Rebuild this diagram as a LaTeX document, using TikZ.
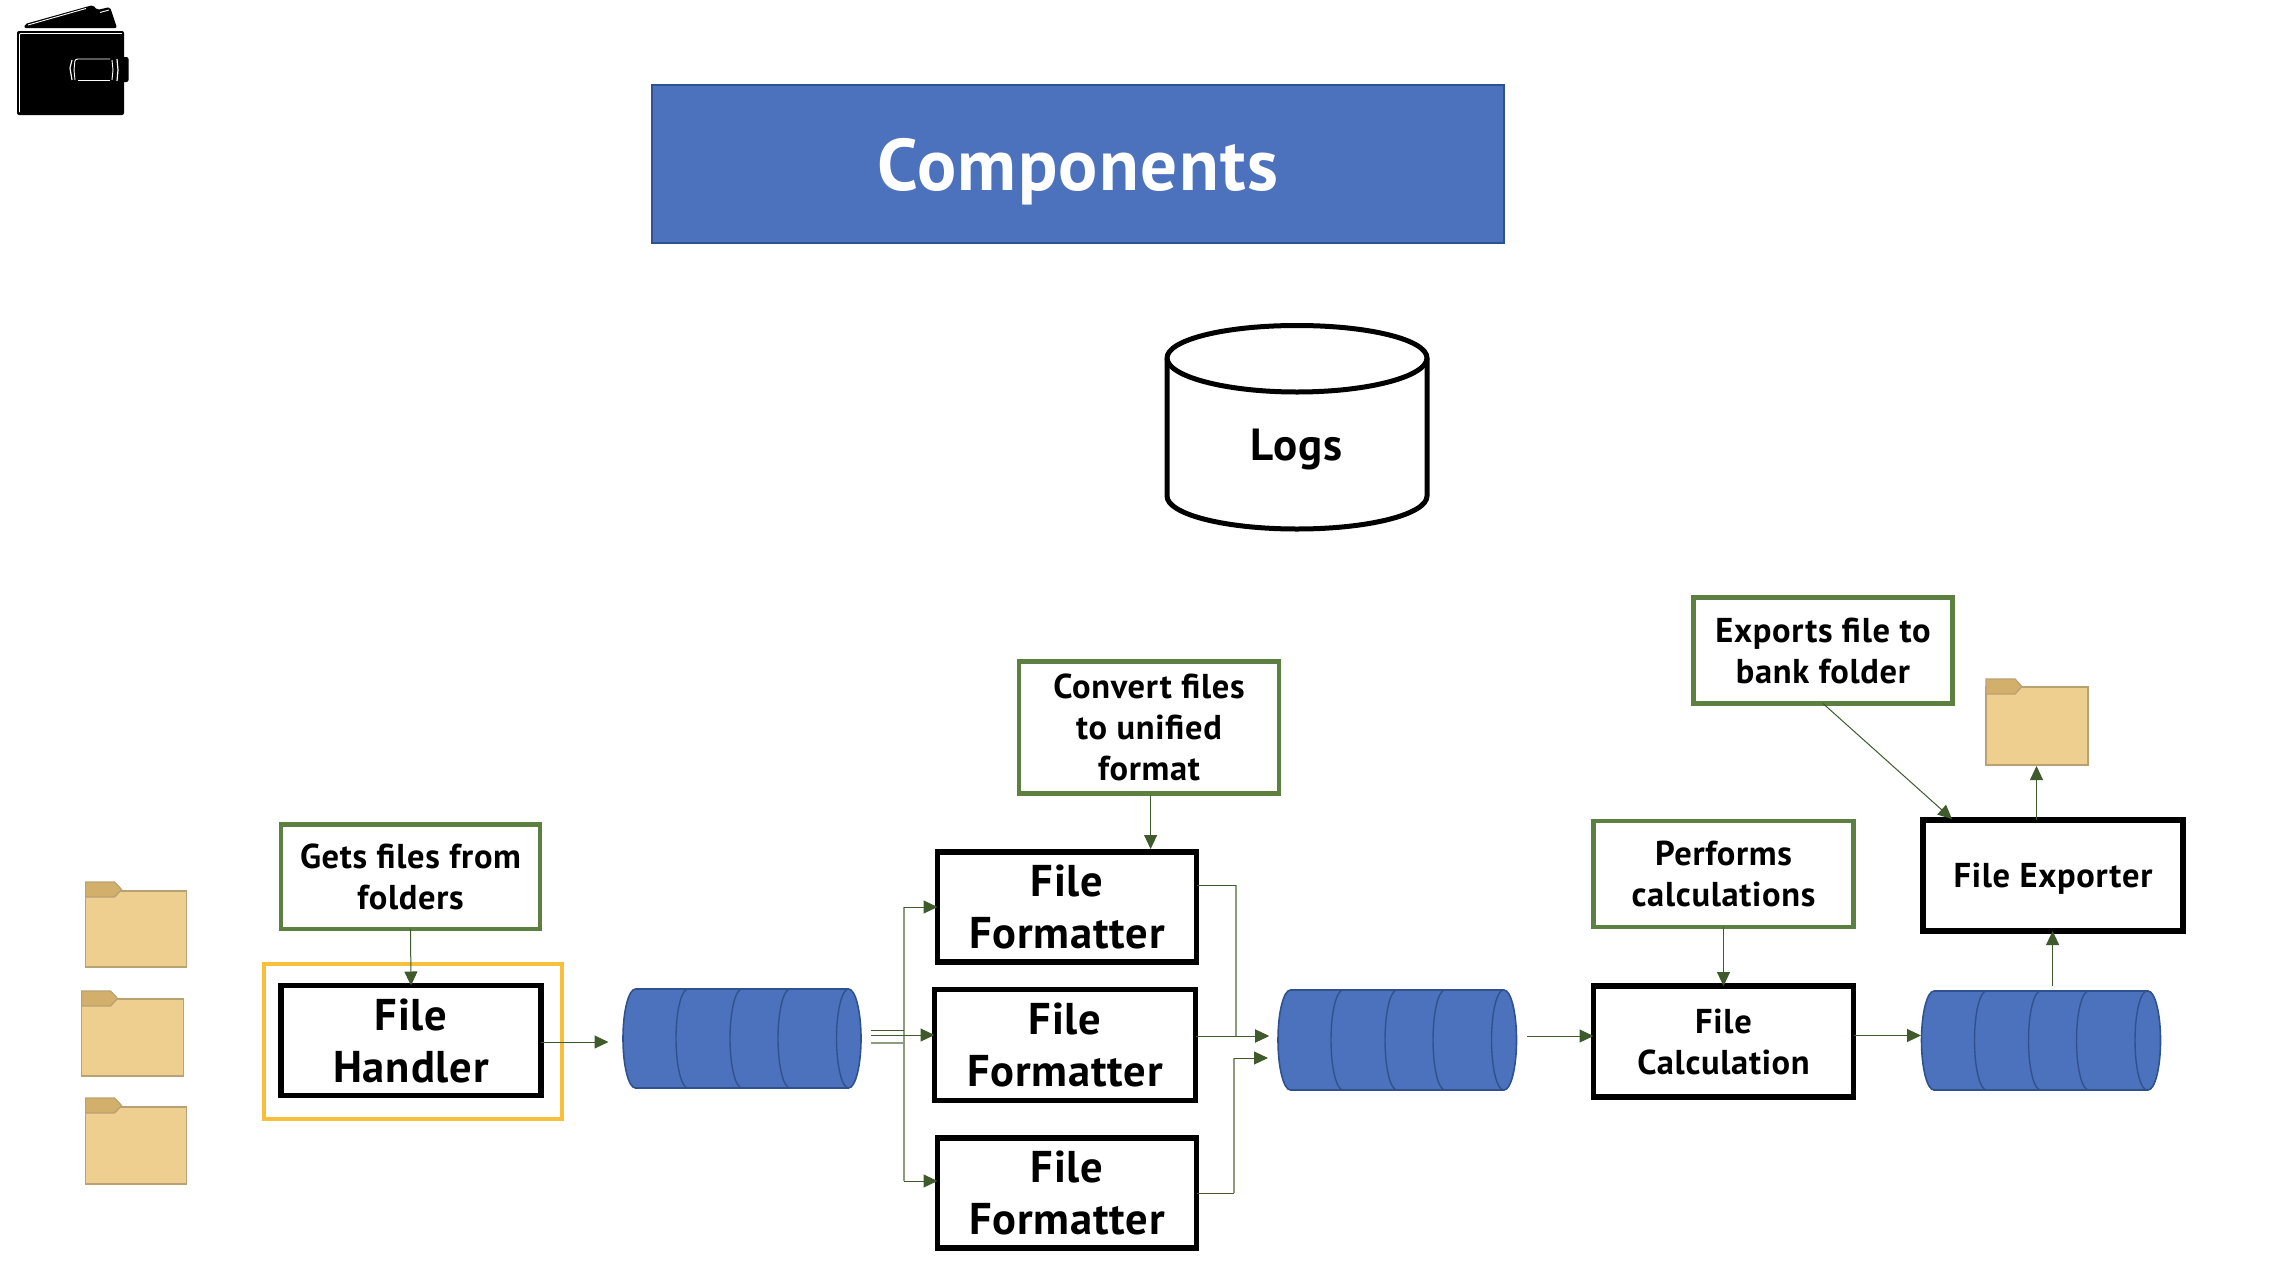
\documentclass[tikz,border=0pt]{standalone}
\usepackage{fontspec}
\setmainfont[LetterSpace=2]{PT Sans}
\usetikzlibrary{arrows.meta}
\definecolor{qfill}{HTML}{4D72BD}
\definecolor{qedge}{HTML}{2F528F}
\definecolor{nfgreen}{HTML}{5C8040}
\definecolor{arrgreen}{HTML}{3F5A2B}
\definecolor{palegreen}{HTML}{8C9C7C}
\definecolor{hlyellow}{HTML}{F8BF3C}
\definecolor{ffill}{HTML}{EECF90}
\definecolor{fedge}{HTML}{B9A173}
\definecolor{ftab}{HTML}{D3AF6C}
\tikzset{
 bigtext/.style={font=\bfseries\fontsize{44.5}{52}\selectfont,align=center},
 smalltext/.style={font=\bfseries\fontsize{34.5}{41}\selectfont,align=center},
 compbox/.style={draw=black,line width=5.5pt,fill=white,inner sep=0pt,outer sep=0pt},
 notebox/.style={draw=nfgreen,line width=4.5pt,fill=white,inner sep=0pt,outer sep=0pt},
 arr/.style={draw=arrgreen,line width=1pt,-{Triangle[length=14pt,width=13pt,fill=arrgreen]}},
 plainline/.style={draw=arrgreen,line width=1pt},
 paleline/.style={draw=palegreen,line width=1.6pt},
}
\newcommand{\queuedraw}[4]{% x0 x1 y0 y1
 \pgfmathsetmacro{\ymid}{(#3+#4)/2}
 \pgfmathsetmacro{\yka}{#3+0.2239*(#4-#3)}
 \pgfmathsetmacro{\ykb}{#4-0.2239*(#4-#3)}
 \fill[qfill,draw=qedge,line width=1.6pt] ({#1+12.5},#3) -- ({#2-12.5},#3)
   .. controls ({#2-5.6},#3) and (#2,\yka) .. (#2,\ymid)
   .. controls (#2,\ykb) and ({#2-5.6},#4) .. ({#2-12.5},#4)
   -- ({#1+12.5},#4)
   .. controls ({#1+5.6},#4) and (#1,\ykb) .. (#1,\ymid)
   .. controls (#1,\yka) and ({#1+5.6},#3) .. ({#1+12.5},#3) -- cycle;
 \foreach \off in {65,119,167,225.5}{
  \draw[qedge,line width=1.4pt] ({#1+\off},#3)
   .. controls ({#1+\off-6.6},#3) and ({#1+\off-12},\yka) .. ({#1+\off-12},\ymid)
   .. controls ({#1+\off-12},\ykb) and ({#1+\off-6.6},#4) .. ({#1+\off},#4);
 }
}
\newcommand{\folderdraw}[5]{% x0 x1 ytab ybody ybot
 \fill[ffill,draw=fedge,line width=1.2pt] (#1,#4) rectangle (#2,#5);
 \fill[ftab,draw=fedge,line width=1.2pt] (#1,#3) -- ({#1+29},#3) -- ({#1+36},{#3+7.5}) -- ({#1+29},{#3+15}) -- (#1,{#3+15}) -- cycle;
}
\begin{document}
\begin{tikzpicture}[x=1pt,y=-1pt]
\useasboundingbox (0,0) rectangle (2284,1266);
% wallet
\fill[black,rounded corners=2pt] (17,31) rectangle (124,115);
\fill[black,rounded corners=2pt] (122,57) rectangle (128.5,82);
\fill[black,rounded corners=2pt] (24,28) -- (25,24) -- (93,5) -- (97,10) -- (110,7) -- (117,28) -- cycle;
\draw[white,line width=0.9pt] (28,25) -- (86,8.5);
\draw[white,line width=0.9pt] (100,12.5) -- (109,10);
\draw[white,line width=0.9pt,rounded corners=1pt] (19.5,112) -- (19.5,33.5) -- (122,33.5);
\draw[white,line width=1.2pt] (72,60) -- (70,68) -- (72,80);
\draw[white,line width=0.9pt,rounded corners=1pt] (75,80) -- (74,70) -- (75,60) -- (77,59) -- (110,59);
\draw[white,line width=0.9pt] (78,80) -- (110,80);
\draw[white,line width=0.9pt] (112,60) -- (113,70) -- (112,80);
\draw[white,line width=1.2pt] (117,59) -- (118,70) -- (117,81);
% title
\node[fill=qfill,draw=qedge,line width=1.2pt,minimum width=852pt,minimum height=158pt,inner sep=0pt,text=white,font=\bfseries\fontsize{73}{80}\selectfont] (title) at (1078,164) {\raisebox{-7.5pt}[\height][\depth]{Components}};
% logs
\draw[black,line width=5pt,fill=white] (1167,358)
  .. controls (1167,340) and (1224,325.5) .. (1297,325.5)
  .. controls (1370,325.5) and (1427,340) .. (1427,358)
  -- (1427,496)
  .. controls (1427,514) and (1370,529) .. (1297,529)
  .. controls (1224,529) and (1167,514) .. (1167,496) -- cycle;
\draw[black,line width=5pt] (1167,358)
  .. controls (1167,376) and (1224,392) .. (1297,392)
  .. controls (1370,392) and (1427,376) .. (1427,358);
\node[font=\bfseries\fontsize{45}{50}\selectfont,inner sep=0pt] (logs) at (1296.5,449.5) {Logs};
% folders
\folderdraw{85.6}{186.6}{882}{891}{967}
\folderdraw{81.6}{183.8}{991}{999}{1076}
\folderdraw{85.6}{186.6}{1098}{1107}{1184}
\folderdraw{1986}{2088}{679}{687}{765}
\coordinate (outfolder) at (2036.5,766);
% queues
\queuedraw{623}{861}{989}{1088}
\queuedraw{1278}{1516.5}{990}{1090}
\queuedraw{1921.5}{2160.5}{991}{1090}
% yellow highlight
\node[draw=hlyellow,line width=4.5pt,minimum width=298pt,minimum height=155pt,inner sep=0pt] (hl) at (413,1041.5) {};
% component boxes
\node[compbox,minimum width=260pt,minimum height=110pt,bigtext] (handler) at (411,1040.5) {File\\Handler};
\node[compbox,minimum width=259pt,minimum height=110pt,bigtext] (fmtA) at (1067,907) {File\\Formatter};
\node[compbox,minimum width=261pt,minimum height=111pt,bigtext] (fmtB) at (1065,1045) {File\\Formatter};
\node[compbox,minimum width=259pt,minimum height=110pt,bigtext] (fmtC) at (1067,1193) {File\\Formatter};
\node[compbox,minimum width=260pt,minimum height=111pt,smalltext] (calc) at (1723.5,1041.5) {File\\Calculation};
\node[compbox,minimum width=260pt,minimum height=111pt,smalltext] (export) at (2053,875.5) {\raisebox{-3pt}[\height][\depth]{File Exporter}};
% note boxes
\node[notebox,minimum width=259pt,minimum height=104.5pt,smalltext] (noteA) at (410.5,876.5) {Gets files from\\folders};
\node[notebox,minimum width=260pt,minimum height=132pt,smalltext] (noteB) at (1149,727.5) {Convert files\\to unified\\format};
\node[notebox,minimum width=260pt,minimum height=106pt,smalltext] (noteC) at (1723.5,874) {Performs\\calculations};
\node[notebox,minimum width=259pt,minimum height=106pt,smalltext] (noteD) at (1823,650.5) {Exports file to\\bank folder};
% free ends
\coordinate (q1in) at (608.5,1042);
\coordinate (q1a) at (871,1030);
\coordinate (q1b) at (871,1035);
\coordinate (q1c) at (871,1043);
\coordinate (busTop) at (904,907);
\coordinate (busMid) at (904,1030);
\coordinate (busBot) at (904,1181);
\coordinate (q2inA) at (1269,1036);
\coordinate (q2inB) at (1268,1058);
\coordinate (rT) at (1236,885);
\coordinate (rB) at (1234,1193);
\coordinate (q2out) at (1527,1036);
\coordinate (q3in) at (1921,1035.5);
\coordinate (q3out) at (2052.6,986);
\coordinate (convTip) at (1150.6,849);
\coordinate (noteBout) at (1150.6,795);
\coordinate (expTip) at (1952,819);
% pale parts
\draw[paleline] (q1c) -- (904,1043);
\draw[paleline] (busTop) -- (busBot);
\draw[paleline] (rT) -- (1236,1036);
\draw[paleline] (rB) -- (1234,1058);
% connectors
\draw[arr] (noteA.south) -- (handler.north);
\draw[arr] (handler.east |- q1in) -- (q1in);
\draw[plainline] (q1a) -- (busMid);
\draw[arr] (q1b) -- (fmtB.west |- q1b);
\draw[arr] (busTop) -- (fmtA.west |- busTop);
\draw[arr] (busBot) -- (fmtC.west |- busBot);
\draw[arr] (noteBout) -- (convTip);
\draw[plainline] (fmtA.east |- rT) -- (rT);
\draw[arr] (1236,1036) -- (q2inA);
\draw[arr] (fmtB.east |- q2inA) -- (q2inA);
\draw[plainline] (fmtC.east |- rB) -- (rB);
\draw[arr] (1234,1058) -- (q2inB);
\draw[arr] (q2out) -- (calc.west |- q2out);
\draw[arr] (noteC.south) -- (calc.north);
\draw[arr] (calc.east |- q3in) -- (q3in);
\draw[arr] (q3out) -- (export.south -| q3out);
\draw[arr] (noteD.south) -- (expTip);
\draw[arr] (export.north -| outfolder) -- (outfolder);
\end{tikzpicture}
\end{document}
